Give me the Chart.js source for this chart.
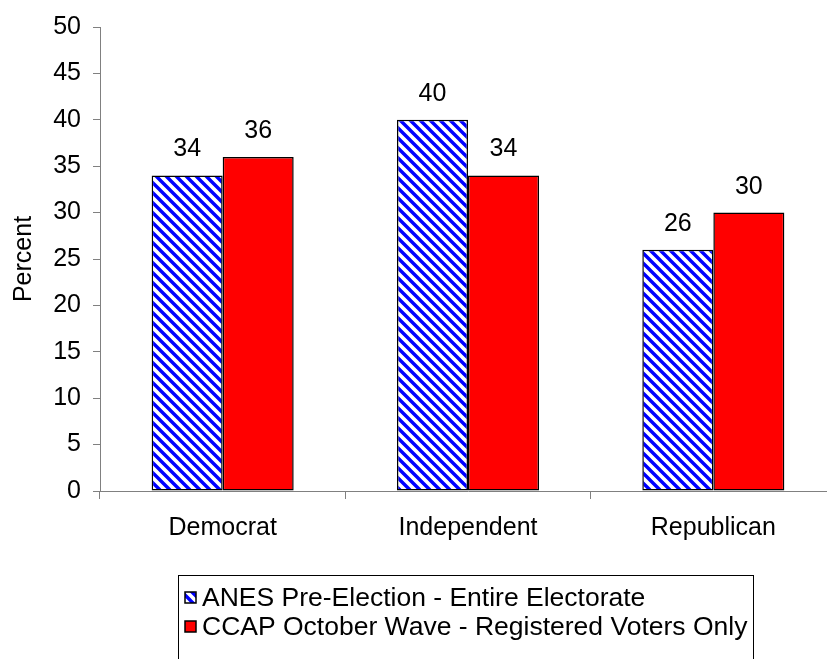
<!DOCTYPE html>
<html>
<head>
<meta charset="utf-8">
<script src="https://cdn.jsdelivr.net/npm/chart.js@4/dist/chart.umd.min.js"></script>
<style>
  html, body { margin: 0; padding: 0; background: #fff; overflow: hidden; width: 827px; height: 659px; }
  canvas { display: block; }
</style>
</head>
<body>
<canvas id="chart" width="840" height="659"></canvas>
<script>
// Party identification shares (percent)
const categories = ['Democrat', 'Independent', 'Republican'];
const anesValues = [34, 40, 26];
const ccapValues = [36, 34, 30];
const seriesNames = [
  'ANES Pre-Election - Entire Electorate',
  'CCAP October Wave - Registered Voters Only'
];
const yAxisTitle = 'Percent';
const yMin = 0;
const yMax = 50;
const yStep = 5;

const FONT = "'Liberation Sans', Arial, sans-serif";
const canvas = document.getElementById('chart');
const ctx = canvas.getContext('2d');

// Blue diagonal hatch used for the ANES series
function makeHatch(context) {
  const tile = document.createElement('canvas');
  tile.width = 10; tile.height = 10;
  const g = tile.getContext('2d');
  g.fillStyle = '#ffffff';
  g.fillRect(0, 0, 10, 10);
  g.strokeStyle = '#0000ff';
  g.lineWidth = 3.4;
  g.beginPath();
  for (const k of [-10, 0, 10]) {
    g.moveTo(k - 2, -2);
    g.lineTo(k + 12, 12);
  }
  g.stroke();
  return context.createPattern(tile, 'repeat');
}
const hatch = makeHatch(ctx);

// Value labels above each bar
const valueLabels = {
  id: 'valueLabels',
  afterDatasetsDraw(chart) {
    const c = chart.ctx;
    c.save();
    c.font = `25px ${FONT}`;
    c.fillStyle = '#000';
    c.textAlign = 'center';
    c.textBaseline = 'alphabetic';
    chart.data.datasets.forEach((ds, i) => {
      chart.getDatasetMeta(i).data.forEach((bar, j) => {
        c.fillText(String(ds.data[j]), bar.x, bar.y - 19);
      });
    });
    c.restore();
  }
};

// Boxed legend below the plot
const legendBox = {
  id: 'legendBox',
  afterDraw(chart) {
    const c = chart.ctx;
    const left = 178, top = 575;
    c.save();
    c.strokeStyle = '#000';
    c.lineWidth = 1;
    c.strokeRect(left + 0.5, top + 0.5, 575, 100);
    const rows = [606, 635];
    c.font = `26.5px ${FONT}`;
    c.textBaseline = 'alphabetic';
    c.textAlign = 'left';
    chart.data.datasets.forEach((ds, i) => {
      const base = rows[i];
      const sy = base - 14;
      c.fillStyle = ds.backgroundColor;
      c.fillRect(185, sy, 11, 11);
      c.lineWidth = 1.5;
      c.strokeStyle = '#000';
      c.strokeRect(185, sy, 11, 11);
      c.fillStyle = '#000';
      c.fillText(ds.label, 202, base);
    });
    c.restore();
  }
};

new Chart(ctx, {
  type: 'bar',
  data: {
    labels: categories,
    datasets: [
      {
        label: seriesNames[0],
        data: anesValues,
        backgroundColor: hatch,
        borderColor: '#000',
        borderWidth: 1.5,
        borderSkipped: false
      },
      {
        label: seriesNames[1],
        data: ccapValues,
        backgroundColor: '#ff0000',
        borderColor: '#000',
        borderWidth: 1.5,
        borderSkipped: false
      }
    ]
  },
  options: {
    responsive: false,
    animation: false,
    layout: { padding: { top: 25, right: 4, left: 0, bottom: 0 } },
    datasets: { bar: { barPercentage: 1, categoryPercentage: 0.579 } },
    plugins: { legend: { display: false }, tooltip: { enabled: false } },
    scales: {
      x: {
        grid: { offset: true, drawOnChartArea: false, drawTicks: true, tickLength: 8, color: '#808080' },
        border: { color: '#808080', width: 1 },
        ticks: { color: '#000', font: { family: FONT, size: 25 }, padding: 14, maxRotation: 0 },
        afterFit(scale) { scale.height = 168; }
      },
      y: {
        min: yMin,
        max: yMax,
        grid: { drawOnChartArea: false, drawTicks: true, tickLength: 7, color: '#808080' },
        border: { color: '#808080', width: 1 },
        ticks: { stepSize: yStep, color: '#000', font: { family: FONT, size: 25 }, padding: 12 },
        title: {
          display: true,
          text: yAxisTitle,
          color: '#000',
          font: { family: FONT, size: 25 },
          padding: { top: 9, bottom: 0 }
        },
        afterFit(scale) { scale.width = 100; }
      }
    }
  },
  plugins: [valueLabels, legendBox]
});
</script>
</body>
</html>
